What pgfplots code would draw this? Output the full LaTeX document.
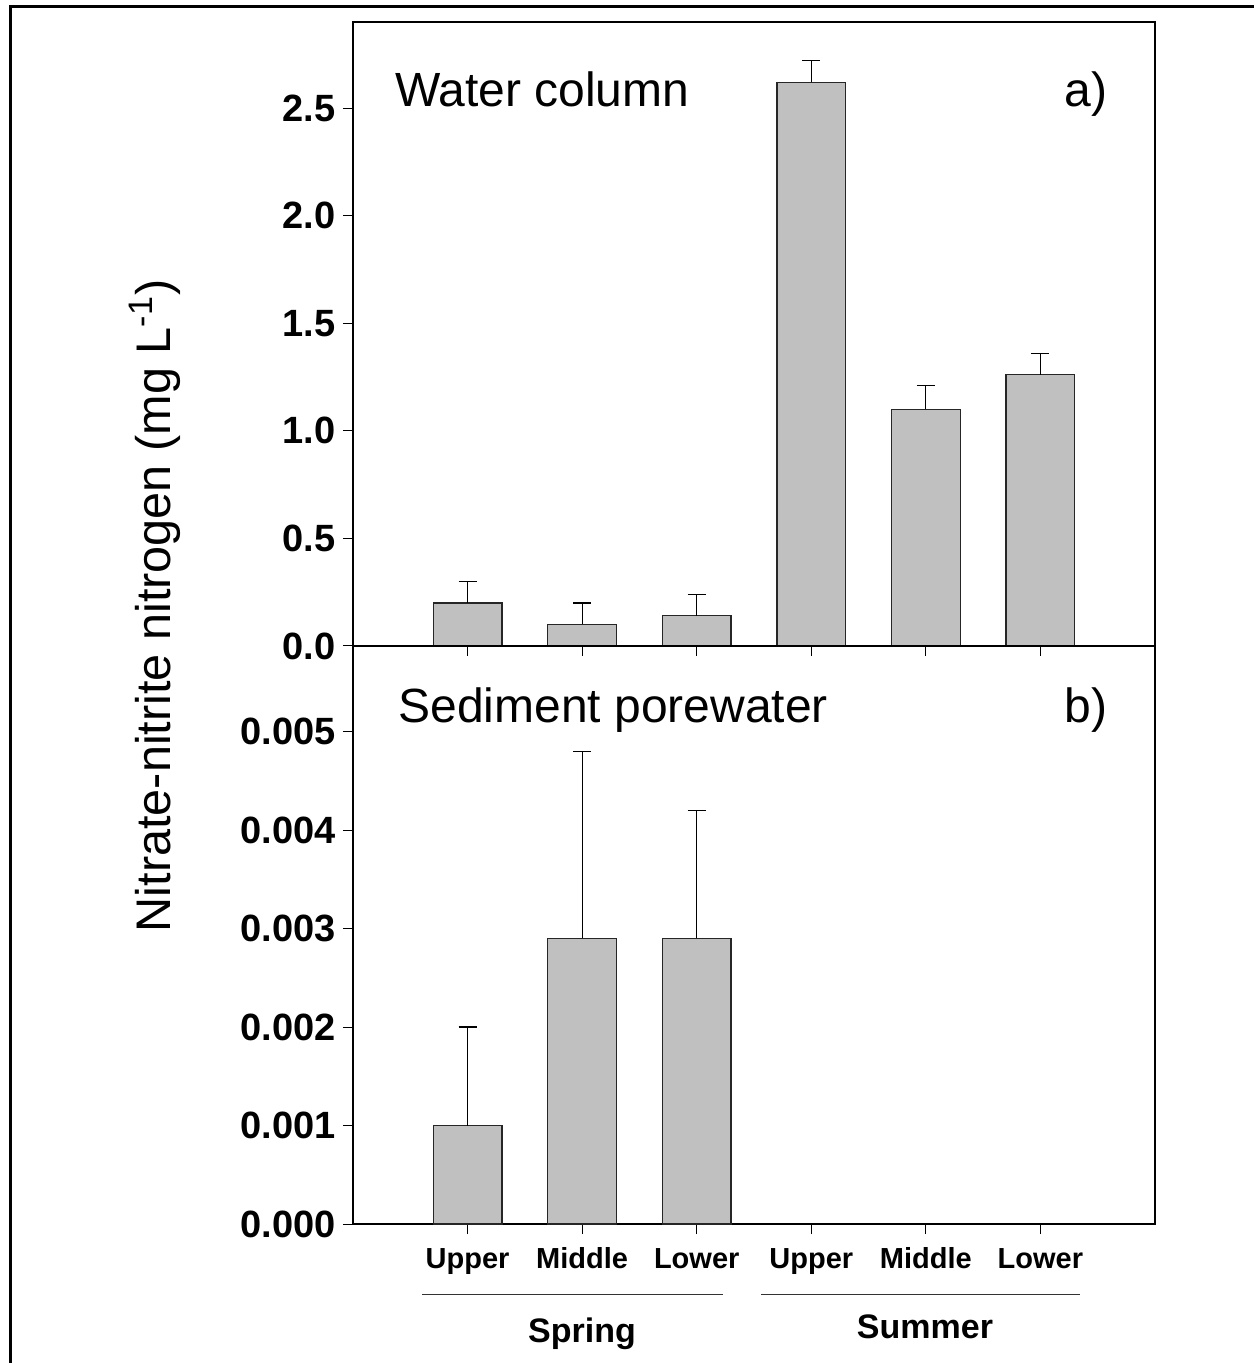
\documentclass[border=0pt]{standalone}
\usepackage{pgfplots}
\usepackage{pgfplotstable}
\pgfplotsset{compat=1.18}
\usepackage{fontspec}
\setmainfont{Liberation Sans}
\definecolor{barg}{HTML}{C0C0C0}

\pgfplotstableread{
x y e
1 0.20 0.10
2 0.10 0.10
3 0.14 0.10
4 2.62 0.10
5 1.10 0.11
6 1.26 0.10
}\topdata

\pgfplotstableread{
x y e
1 0.0010 0.0010
2 0.0029 0.0019
3 0.0029 0.0013
}\botdata

\pgfplotsset{
  panel/.style={
    scale only axis, width=401pt,
    xmin=0, xmax=7, xtick={1,2,3,4,5,6},
    tick align=outside, xtick pos=bottom, ytick pos=left,
    major tick length=5pt,
    tick style={black, line width=0.5pt},
    axis line style={line width=0.6pt},
    x axis line style={line width=1pt},
    ybar, bar width=0.6,
    /pgf/number format/assume math mode=true,
    yticklabel style={font=\bfseries\fontsize{19}{19}\selectfont, inner sep=3.5pt},
    xticklabel style={font=\bfseries\fontsize{14.5}{14.5}\selectfont, anchor=base, inner sep=0pt, yshift=-17pt},
    scaled y ticks=false,
  },
  barstyle/.style={
    fill=barg, draw=black!85, line width=0.6pt,
    error bars/.cd, y dir=plus, y explicit,
    error bar style={line width=0.6pt, black},
    error mark options={rotate=90, mark size=4.5pt, line width=0.6pt, black},
  },
}

\begin{document}
\begin{tikzpicture}
\path[use as bounding box] (0,0) rectangle (627pt,-681.5pt);
\draw[line width=1.5pt] (5.25pt,-681.5pt) -- (5.25pt,-3.25pt) -- (627pt,-3.25pt);

\begin{axis}[panel,
  at={(176.5pt,-11pt)}, anchor=north west, height=312pt,
  ymin=0, ymax=2.9, ytick={0,0.5,1,1.5,2,2.5},
  xticklabels={},
  yticklabel style={/pgf/number format/.cd, fixed, fixed zerofill, precision=1},
]
\addplot[barstyle] table[x=x, y=y, y error=e] {\topdata};
\node[anchor=base west, font=\fontsize{24}{24}\selectfont, inner sep=0pt] at (rel axis cs:0.052,0.864) {Water column};
\node[anchor=base east, font=\fontsize{24}{24}\selectfont, inner sep=0pt] at (rel axis cs:0.941,0.864) {a)};
\end{axis}

\begin{axis}[panel,
  at={(176.5pt,-323pt)}, anchor=north west, height=289pt,
  ymin=0, ymax=0.00587, ytick={0,0.001,0.002,0.003,0.004,0.005},
  xticklabels={Upper,Middle,Lower,Upper,Middle,Lower},
  yticklabel style={/pgf/number format/.cd, fixed, fixed zerofill, precision=3},
]
\addplot[barstyle] table[x=x, y=y, y error=e] {\botdata};
\node[anchor=base west, font=\fontsize{24}{24}\selectfont, inner sep=0pt] at (rel axis cs:0.056,0.867) {Sediment porewater};
\node[anchor=base east, font=\fontsize{24}{24}\selectfont, inner sep=0pt] at (rel axis cs:0.941,0.867) {b)};
\end{axis}

\node[rotate=90, font=\fontsize{24.3}{24.3}\selectfont, inner sep=0pt] at (77.5pt,-303pt) {Nitrate-nitrite nitrogen (mg L\textsuperscript{-1})};

\draw[line width=0.5pt, black!80] (211pt,-647pt) -- (361.5pt,-647pt);
\draw[line width=0.5pt, black!80] (380.5pt,-647pt) -- (540pt,-647pt);
\node[anchor=base, inner sep=0pt, font=\bfseries\fontsize{17}{17}\selectfont] at (291pt,-671pt) {Spring};
\node[anchor=base, inner sep=0pt, font=\bfseries\fontsize{17}{17}\selectfont] at (462.5pt,-669pt) {Summer};
\end{tikzpicture}
\end{document}
